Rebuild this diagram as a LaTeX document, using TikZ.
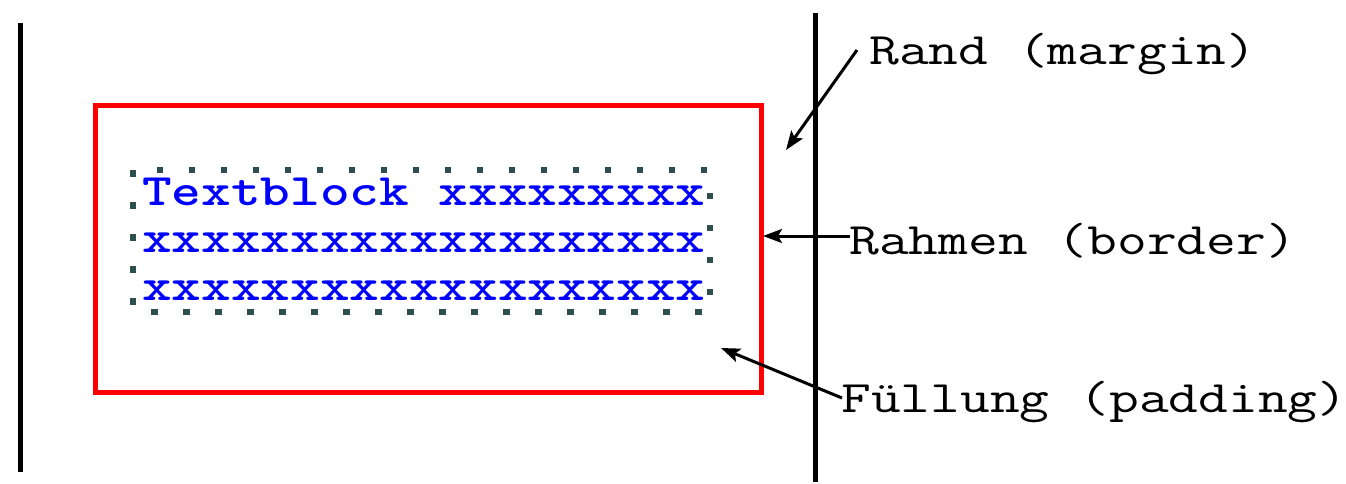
\documentclass[tikz,border=0pt]{standalone}
\usepackage{fontspec}
\usetikzlibrary{arrows.meta}
\definecolor{dotgray}{HTML}{2F4F4F}
\tikzset{
  marginline/.style={line width=5pt, black},
  borderbox/.style={line width=5pt, red},
  paddingbox/.style={line width=5.5pt, dotgray, dash pattern=on 6.5pt off 25.5pt},
  blocktext/.style={inner sep=0pt, anchor=base west, blue, xscale=1.255, font=\fontsize{45}{50}\selectfont\ttfamily\bfseries},
  labeltext/.style={inner sep=0pt, anchor=base west, black, xscale=1.285, font=\fontsize{45}{50}\selectfont\ttfamily},
  pointer/.style={line width=3pt, -{Stealth[length=19pt,width=14pt,inset=4pt]}}
}
\begin{document}
\begin{tikzpicture}[x=1pt,y=-1pt]
\useasboundingbox (0,0) rectangle (1346,484);
% margin lines
\coordinate (lt) at (20,23);
\coordinate (lb) at (20,472);
\coordinate (rt) at (815,13);
\coordinate (rb) at (815,482);
\draw[marginline] (lt) -- (lb);
\draw[marginline] (rt) -- (rb);
% border box
\draw[borderbox] (95,106) rectangle (761,392);
% padding (dotted) box
\draw[paddingbox] (133,170) rectangle (710,312);
% text block
\node[blocktext] (t1) at (142,205) {Textblock xxxxxxxxx};
\node[blocktext] (t2) at (142,252) {xxxxxxxxxxxxxxxxxxx};
\node[blocktext] (t3) at (142,300) {xxxxxxxxxxxxxxxxxxx};
% labels
\node[labeltext] (rand) at (869,65) {Rand (margin)};
\node[labeltext] (rahmen) at (849,254) {Rahmen (border)};
\node[labeltext] (fuell) at (841,412) {Füllung (padding)};
% arrow ends
\coordinate (randfrom) at (857,50);
\coordinate (randtip) at (786,150);
\coordinate (rahmenfrom) at (850,236);
\coordinate (rahmentip) at (763,236);
\coordinate (fuellfrom) at (842,398);
\coordinate (fuelltip) at (721,348);
\draw[pointer] (randfrom) -- (randtip);
\draw[pointer] (rahmenfrom) -- (rahmentip);
\draw[pointer] (fuellfrom) -- (fuelltip);
\end{tikzpicture}
\end{document}
